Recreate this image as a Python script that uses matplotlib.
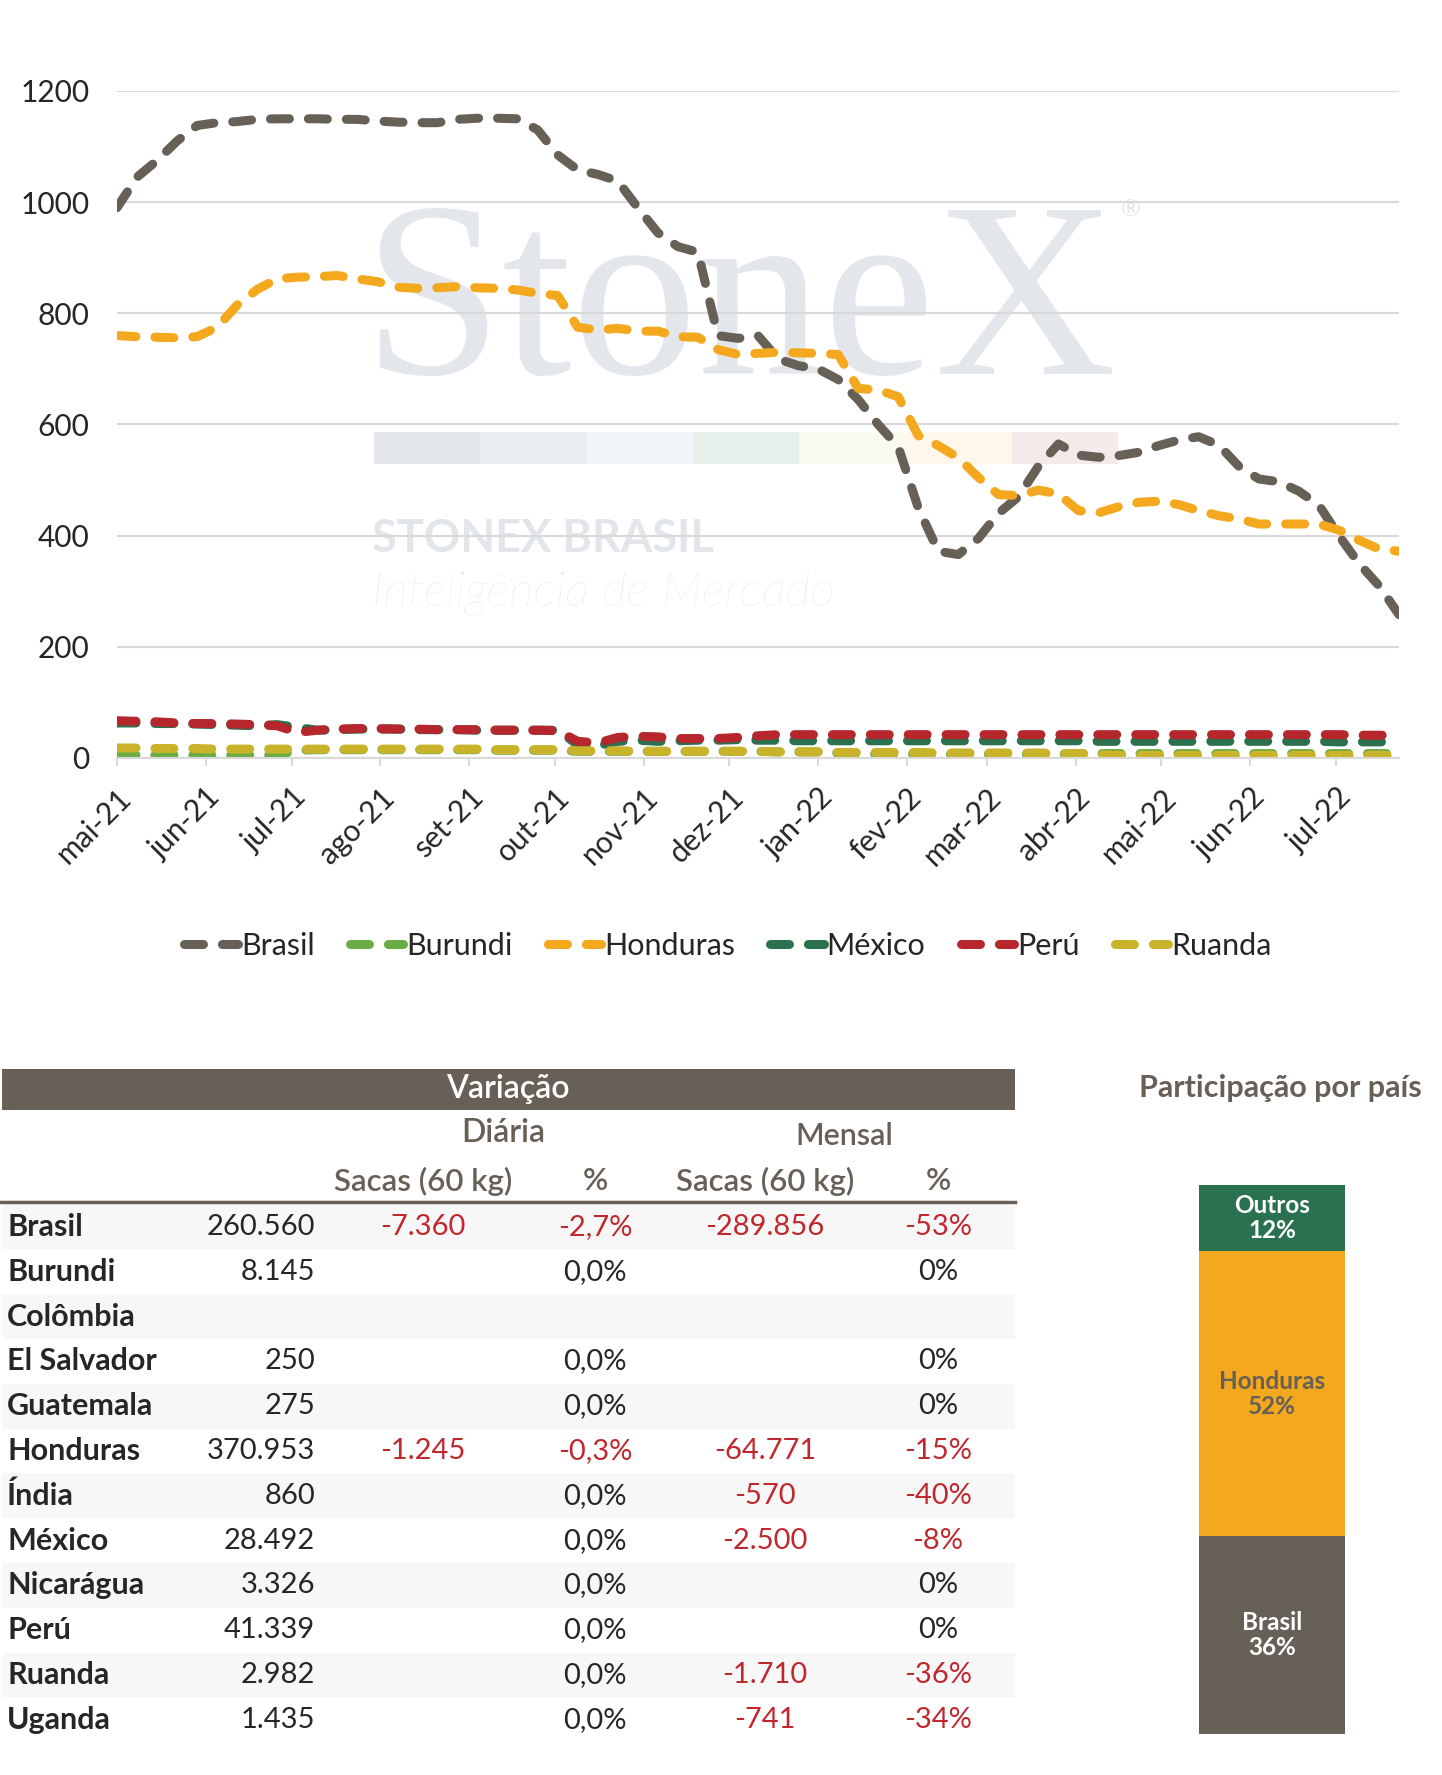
"""Estoques de café por país: linhas semanais, tabela de variação e participação."""

import matplotlib

matplotlib.use("Agg")
import matplotlib.pyplot as plt
import pandas as pd
from matplotlib.patches import Rectangle

plt.rcParams["font.family"] = ["Lato", "DejaVu Sans"]

# ---- dados do gráfico (mil sacas), amostragem semanal ----
dates = pd.date_range("2021-05-01", periods=65, freq="7D")
month_ticks = pd.date_range("2021-05-01", "2022-07-01", freq="MS")
month_labels = ["mai-21", "jun-21", "jul-21", "ago-21", "set-21", "out-21", "nov-21",
                "dez-21", "jan-22", "fev-22", "mar-22", "abr-22", "mai-22", "jun-22", "jul-22"]

brasil = [990, 1045, 1075, 1110, 1138, 1143, 1145, 1149, 1150, 1150,
          1150, 1149, 1149, 1146, 1144, 1143, 1143, 1149, 1151, 1151,
          1150, 1130, 1085, 1058, 1050, 1038, 990, 945, 920, 910,
          760, 755, 760, 718, 706, 700, 681, 645, 600, 560,
          450, 372, 366, 395, 440, 470, 525, 565, 545, 541,
          544, 550, 562, 572, 578, 563, 525, 502, 497, 480,
          455, 400, 350, 310, 258]
burundi = [5, 5, 5, 5, 5, 5, 5, 5, 5, 14,
           15, 15, 15, 15, 15, 15, 15, 15, 15, 14,
           14, 14, 14, 12, 12, 12, 12, 12, 12, 12,
           12, 12, 12, 11, 11, 11, 9, 8, 7, 7,
           7, 7, 7, 7, 7, 7, 7, 7, 8, 8,
           8, 8, 8, 8, 8, 8, 8, 8, 8, 8,
           8, 8, 8, 8, 8]
honduras = [760, 758, 757, 756, 758, 775, 815, 843, 862, 865,
            866, 868, 862, 857, 847, 845, 846, 848, 846, 845,
            842, 836, 832, 775, 770, 773, 768, 768, 758, 757,
            735, 726, 728, 730, 729, 728, 726, 665, 662, 650,
            580, 562, 540, 505, 474, 472, 482, 475, 445, 441,
            452, 460, 462, 456, 445, 436, 430, 421, 421, 421,
            421, 410, 392, 376, 372]
mexico = [63, 63, 62, 62, 61, 60, 59, 58, 60, 55,
          50, 51, 52, 52, 52, 51, 51, 51, 50, 50,
          50, 50, 50, 24, 22, 30, 32, 30, 31, 32,
          32, 33, 32, 32, 31, 31, 31, 31, 31, 31,
          31, 31, 31, 31, 31, 31, 31, 31, 31, 30,
          30, 30, 30, 30, 30, 30, 30, 30, 30, 30,
          30, 29, 29, 29, 29]
peru = [67, 66, 65, 63, 62, 62, 61, 60, 58, 46,
        50, 52, 53, 53, 52, 52, 51, 51, 51, 50,
        50, 50, 49, 30, 27, 37, 39, 38, 35, 35,
        35, 37, 40, 42, 42, 42, 42, 42, 42, 42,
        42, 42, 42, 42, 42, 42, 42, 42, 42, 42,
        42, 42, 42, 42, 42, 42, 42, 42, 42, 42,
        42, 42, 41, 41, 41]
ruanda = [18, 18, 17, 17, 17, 16, 16, 16, 16, 16,
          16, 16, 16, 16, 16, 16, 16, 16, 16, 15,
          15, 15, 15, 13, 13, 13, 12, 12, 12, 12,
          12, 12, 12, 11, 11, 11, 10, 10, 10, 10,
          10, 9, 9, 9, 9, 9, 9, 8, 8, 6,
          5, 5, 5, 5, 5, 5, 5, 5, 5, 5,
          5, 5, 5, 5, 5]

series = [
    ("Brasil", brasil, "#666057"),
    ("Burundi", burundi, "#6aad45"),
    ("Honduras", honduras, "#f4a81d"),
    ("México", mexico, "#2b7150"),
    ("Perú", peru, "#b5272d"),
    ("Ruanda", ruanda, "#c8b32a"),
]

# ---- tabela ----
countries = ["Brasil", "Burundi", "Colômbia", "El Salvador", "Guatemala", "Honduras",
             "Índia", "México", "Nicarágua", "Perú", "Ruanda", "Uganda"]
stock = ["260.560", "8.145", "", "250", "275", "370.953", "860", "28.492", "3.326",
         "41.339", "2.982", "1.435"]
daily_sacas = ["-7.360", "", "", "", "", "-1.245", "", "", "", "", "", ""]
daily_pct = ["-2,7%", "0,0%", "", "0,0%", "0,0%", "-0,3%", "0,0%", "0,0%", "0,0%",
             "0,0%", "0,0%", "0,0%"]
monthly_sacas = ["-289.856", "", "", "", "", "-64.771", "-570", "-2.500", "", "",
                 "-1.710", "-741"]
monthly_pct = ["-53%", "0%", "", "0%", "0%", "-15%", "-40%", "-8%", "0%", "0%",
               "-36%", "-34%"]

# ---- participação ----
share_labels = ["Brasil", "Honduras", "Outros"]
share_values = [36, 52, 12]
share_colors = ["#666057", "#f4a81d", "#2a7150"]
share_text_colors = ["white", "#666057", "white"]

W, H = 1442, 1775
BROWN = "#686056"
RED = "#c0282e"
DARK = "#262626"
GRID = "#d9d9d9"

fig = plt.figure(figsize=(W / 100, H / 100), dpi=100)

# fundo em coordenadas de pixel (marca d'água + tabela)
bg = fig.add_axes([0, 0, 1, 1], zorder=0)
bg.set_xlim(0, W)
bg.set_ylim(H, 0)
bg.axis("off")

# marca d'água StoneX
bg.text(362, 374, "StoneX", family=["Liberation Serif", "DejaVu Serif"], fontsize=181,
        color="#e3e7ec", va="baseline", ha="left")
bg.text(1131, 210, "®", fontsize=17, color="#e3e7ec", va="center", ha="center")
strip_colors = ["#e4e8ec", "#e8edf1", "#f0f5f9", "#e7efea", "#fbfaef", "#fdf7ec", "#f6e9ea"]
seg_w = (1118 - 374) / len(strip_colors)
for k, c in enumerate(strip_colors):
    bg.add_patch(Rectangle((374 + k * seg_w, 432), seg_w, 32, color=c, lw=0))
bg.text(372, 552, "STONEX BRASIL", fontsize=32.5, fontweight="bold", color="#e2e6eb",
        va="baseline")
bg.text(372, 606, "Inteligência de Mercado", fontsize=35, style="italic",
        fontweight="light", color="#e2e6eb", va="baseline")

# gráfico de linhas
ax = fig.add_axes([117 / W, 1 - 758 / H, (1399 - 117) / W, 667 / H], zorder=1)
ax.patch.set_alpha(0)
for name, vals, color in series:
    ax.plot(dates, vals, color=color, lw=6.5, dashes=(2.1, 2.1),
            dash_capstyle="round", solid_capstyle="round", label=name)
ax.set_xlim(dates[0], dates[-1])
ax.set_ylim(0, 1200)
ax.set_yticks(range(0, 1201, 200))
ax.yaxis.grid(True, color=GRID, lw=1.5)
ax.set_axisbelow(True)
for s in ["left", "right", "top"]:
    ax.spines[s].set_visible(False)
ax.spines["bottom"].set_color(GRID)
ax.spines["bottom"].set_linewidth(1.5)
ax.set_xticks(month_ticks)
ax.set_xticklabels(month_labels, rotation=45, ha="right", va="top",
                   rotation_mode="anchor")
ax.tick_params(axis="x", length=6, width=1.5, color=GRID, labelsize=21.5, pad=12,
               labelcolor=DARK)
ax.tick_params(axis="y", length=0, labelsize=21.5, pad=20, labelcolor=DARK)

fig.legend(loc="center", bbox_to_anchor=(728 / W, 1 - 946 / H), ncol=6, frameon=False,
           fontsize=22, handlelength=1.75, handletextpad=0.1, columnspacing=1.15,
           labelcolor=DARK)

# tabela de variação
bg.add_patch(Rectangle((2, 1069), 1013, 41, color=BROWN, lw=0))
bg.text(508, 1089, "Variação", color="white", fontsize=23, fontweight="semibold",
        ha="center", va="center")
bg.text(503, 1133, "Diária", color=BROWN, fontsize=23, fontweight="semibold",
        ha="center", va="center")
bg.text(844, 1136, "Mensal", color=BROWN, fontsize=22, fontweight="semibold",
        ha="center", va="center")
for x, label in [(423, "Sacas (60 kg)"), (595, "%"), (765, "Sacas (60 kg)"), (938, "%")]:
    bg.text(x, 1181, label, color=BROWN, fontsize=22.5, fontweight="semibold",
            ha="center", va="center")
bg.plot([0, 1015], [1202, 1202], color=BROWN, lw=2.5)

row_y0, row_step = 1227, 44.8
for i, name in enumerate(countries):
    y = row_y0 + i * row_step
    if i % 2 == 0:
        bg.add_patch(Rectangle((2, y - row_step / 2), 1013, row_step, color="#f7f7f7", lw=0))
    bg.text(7, y, name, fontsize=22, fontweight="bold", color=DARK, va="center", ha="left")
    bg.text(315, y, stock[i], fontsize=21, color=DARK, va="center", ha="right")
    for x, col in [(423, daily_sacas), (595, daily_pct), (765, monthly_sacas), (938, monthly_pct)]:
        txt = col[i]
        if txt:
            bg.text(x, y, txt, fontsize=21, color=RED if txt.startswith("-") else DARK,
                    va="center", ha="center")

# participação por país
bg.text(1280, 1088, "Participação por país", fontsize=22, fontweight="bold",
        color=BROWN, ha="center", va="center")
axb = fig.add_axes([1199 / W, 1 - 1734 / H, 146 / W, 549 / H], zorder=1)
bottom = 0
for lab, val, col, tcol in zip(share_labels, share_values, share_colors, share_text_colors):
    axb.bar(0, val, bottom=bottom, width=1, color=col)
    axb.text(0, bottom + val / 2, f"{lab}\n{val}%", ha="center", va="center",
             fontsize=17.5, fontweight="bold", color=tcol, linespacing=1.1)
    bottom += val
axb.set_xlim(-0.5, 0.5)
axb.set_ylim(0, 100)
axb.axis("off")

fig.savefig("out.png", dpi=100)
